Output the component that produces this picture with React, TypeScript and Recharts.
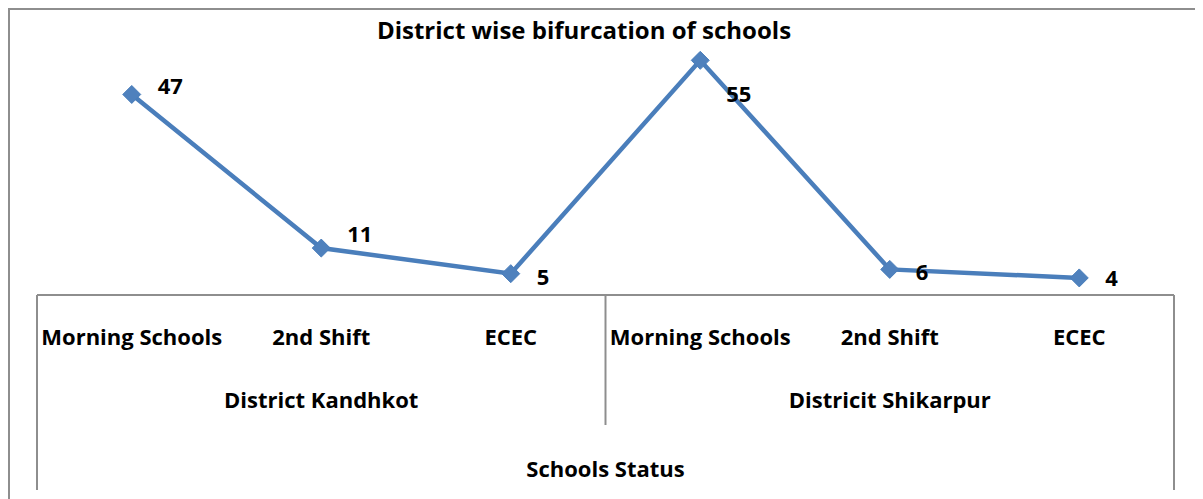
import { LineChart, Line, XAxis, YAxis, LabelList, Label } from "recharts";

const categories = ["Morning Schools", "2nd Shift", "ECEC", "Morning Schools", "2nd Shift", "ECEC"];
const districts = ["District Kandhkot", "Districit Shikarpur"];
const schoolCounts = [47, 11, 5, 55, 6, 4];
const yDomain = [0, 60];

// vertical nudge for each data label (excel moved a couple of them by hand)
const labelNudge = [-8, -14, 3, 34, 3, 0];

const GROUP_SIZE = 3;
const CHART_W = 1193;
const CHART_H = 489;
const MARGIN = { top: 29, right: 29, bottom: 0, left: 27 };
const HALF_BAND = (CHART_W - MARGIN.left - MARGIN.right) / categories.length / 2;

const LINE_COLOR = "#4a7ebb";
const AXIS_COLOR = "#8e8e8e";
const FONT = "'Open Sans', Lato, sans-serif";

const data = categories.map((label, i) => ({
  key: `${i}-${label}`,
  label,
  district: districts[Math.floor(i / GROUP_SIZE)],
  value: schoolCounts[i],
}));

const textStyle = { fontFamily: FONT, fontWeight: 700, fontSize: 22, fill: "#000" };

function CategoryTick(props: any) {
  const { x, y, index } = props;
  const half = HALF_BAND;
  const pos = index % GROUP_SIZE;
  const last = index === categories.length - 1;
  return (
    <g>
      <text x={x} y={y + 50} textAnchor="middle" {...textStyle}>
        {categories[index]}
      </text>
      {pos === 1 && (
        <text x={x} y={y + 113} textAnchor="middle" {...textStyle}>
          {districts[Math.floor(index / GROUP_SIZE)]}
        </text>
      )}
      {pos === 0 && (
        <line x1={x - half} x2={x - half} y1={y} y2={index === 0 ? y + 195 : y + 130} stroke={AXIS_COLOR} strokeWidth={2} />
      )}
      {last && <line x1={x + half} x2={x + half} y1={y} y2={y + 195} stroke={AXIS_COLOR} strokeWidth={2} />}
    </g>
  );
}

function Diamond(props: any) {
  const { cx, cy, index } = props;
  const r = 9;
  return (
    <polygon
      key={`d-${index}`}
      points={`${cx},${cy - r} ${cx + r},${cy} ${cx},${cy + r} ${cx - r},${cy}`}
      fill="#4f81bd"
      stroke={LINE_COLOR}
      strokeWidth={1}
    />
  );
}

function ValueLabel(props: any) {
  const { x, y, value, index } = props;
  return (
    <text x={x + 26} y={y + labelNudge[index] + 8} textAnchor="start" {...textStyle}>
      {value}
    </text>
  );
}

export default function App() {
  return (
    <div
      style={{
        position: "relative",
        width: CHART_W + 2,
        height: CHART_H + 2,
        boxSizing: "border-box",
        borderLeft: `2px solid ${AXIS_COLOR}`,
        borderTop: `2px solid ${AXIS_COLOR}`,
      }}
    >
      <LineChart width={CHART_W} height={CHART_H} data={data} margin={MARGIN}>
        <XAxis
          dataKey="key"
          type="category"
          padding={{ left: HALF_BAND, right: HALF_BAND }}
          interval={0}
          height={204}
          tickSize={0}
          tickMargin={0}
          tickLine={false}
          axisLine={{ stroke: AXIS_COLOR, strokeWidth: 2 }}
          tick={(p: any) => <CategoryTick {...p} />}
        >
          <Label
            content={(p: any) => {
              const vb = p.viewBox;
              return (
                <text x={vb.x + vb.width / 2} y={vb.y + 182} textAnchor="middle" {...textStyle}>
                  Schools Status
                </text>
              );
            }}
          />
        </XAxis>
        <YAxis hide type="number" domain={yDomain} />
        <Line
          type="linear"
          dataKey="value"
          stroke={LINE_COLOR}
          strokeWidth={4.5}
          dot={(p: any) => <Diamond {...p} key={`d-${p.index}`} />}
          activeDot={false}
          isAnimationActive={false}
        >
          <LabelList dataKey="value" content={(p: any) => <ValueLabel {...p} />} />
        </Line>
      </LineChart>
      <svg
        width={CHART_W}
        height={50}
        style={{ position: "absolute", left: 0, top: 0, pointerEvents: "none" }}
      >
        <text x={574} y={29} textAnchor="middle" {...textStyle} fontSize={24}>
          District wise bifurcation of schools
        </text>
      </svg>
    </div>
  );
}
